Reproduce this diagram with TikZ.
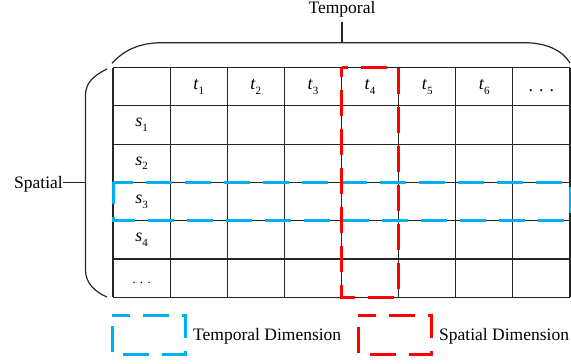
\documentclass[tikz,border=0pt]{standalone}
\usepackage{fontspec}
\setmainfont{Liberation Serif}
\definecolor{dimblue}{RGB}{0,176,240}
\definecolor{dimred}{RGB}{255,0,0}
\newcommand\lab[2]{\textit{#1}\raisebox{-0.55ex}{\fontsize{11}{11}\selectfont #2}}
\begin{document}
\begin{tikzpicture}[x=1pt,y=-1pt,
  gridline/.style={line width=1.2pt,draw=black!85},
  bracepath/.style={line width=1.2pt,draw=black!85},
  dimbox/.style={line width=3pt,dash pattern=on 26pt off 13pt},
  celltext/.style={inner sep=0pt,font=\fontsize{18}{20}\selectfont},
  bigtext/.style={inner sep=0pt,font=\fontsize{17.5}{20}\selectfont}]
\useasboundingbox (0,0) rectangle (571,364);
% grid
\foreach \i in {0,...,8}
  \draw[gridline] ({113+57.125*\i},67.5) -- ({113+57.125*\i},297.4);
\foreach \j in {0,...,6}
  \draw[gridline] (113,{67.5+38.3*\j}) -- (570,{67.5+38.3*\j});
% header labels
\foreach \i in {1,...,6}
  \node[celltext] (t\i) at ({113+57.125*(\i+0.5)},87) {\lab{t}{\i}};
\node[celltext] (tdots) at ({113+57.125*7.5},91) {.\,\,.\,\,.};
\foreach \j in {1,...,4}
  \node[celltext] (s\j) at (141.6,{67.5+38.3*(\j+0.5)}) {\lab{s}{\j}};
\node[celltext,font=\fontsize{13}{14}\selectfont] (sdots) at (141.6,283) {.\,\,.\,\,.};
% highlighted dimensions (clockwise from top-left)
\draw[dimbox,draw=dimblue,dash phase=6pt] (113,182.4) -- (570,182.4) -- (570,220.7) -- (113,220.7) -- cycle;
\draw[dimbox,draw=dimred,dash phase=20pt] (341.5,67.5) -- (398.6,67.5) -- (398.6,297.4) -- (341.5,297.4) -- cycle;
% braces
\coordinate (tb) at (342,42.7);
\coordinate (tt) at (342,22);
\draw[bracepath] (112,63.3) .. controls (124,50) and (140,42.7) .. (162,42.7) -- (524,42.7) .. controls (546,42.7) and (562,50) .. (570,63);
\draw[bracepath] (tt) -- (tb);
\node[bigtext,anchor=base] (temporal) at (342,13) {Temporal};
\draw[bracepath] (107,69) .. controls (95,75) and (85.5,82) .. (85.5,95) -- (85.5,270) .. controls (85.5,283) and (95,292) .. (107,297);
\node[bigtext,anchor=base east] (spatial) at (63,188) {Spatial};
\coordinate (sl) at (63,182.7);
\coordinate (sr) at (85.5,182.7);
\draw[bracepath] (sl) -- (sr);
% legend
\draw[dimbox,draw=dimblue,dash phase=8pt] (112,315) -- (185,315) -- (185,354) -- (112,354) -- cycle;
\node[bigtext,anchor=base west] (legt) at (193,340) {Temporal Dimension};
\draw[dimbox,draw=dimred,dash phase=8pt] (358,315) -- (431.5,315) -- (431.5,354) -- (358,354) -- cycle;
\node[bigtext,anchor=base west] (legs) at (439,340.5) {Spatial Dimension};
\end{tikzpicture}
\end{document}
